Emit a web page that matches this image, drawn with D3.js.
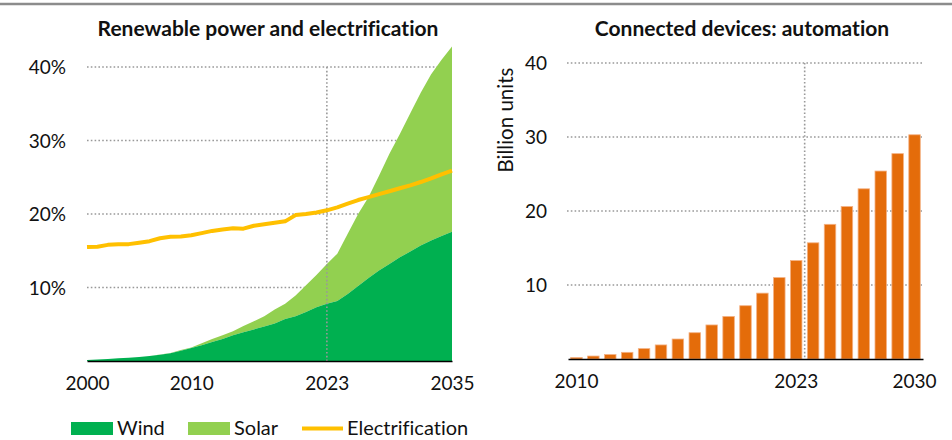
<!DOCTYPE html>
<html><head><meta charset="utf-8">
<script src="https://cdn.jsdelivr.net/npm/d3@7"></script>
<style>
body{margin:0;background:#fff;}
svg{display:block;font-family:Lato,"Open Sans",sans-serif;font-variant-ligatures:none;}
</style></head><body>
<svg id="c" width="952" height="440"></svg>
<script>
// ---------- DATA ----------
const years = d3.range(2000, 2036);
const wind = [0.15,0.2,0.28,0.36,0.45,0.55,0.68,0.85,1.05,1.4,1.78,2.15,2.6,3.0,3.5,3.9,4.3,4.7,5.1,5.7,6.1,6.65,7.3,7.8,8.15,9.1,10.2,11.3,12.3,13.2,14.1,14.9,15.7,16.4,17.0,17.6];
const solar = [0,0,0,0,0,0,0,0.02,0.05,0.1,0.07,0.25,0.4,0.5,0.55,0.85,1.1,1.4,1.9,2.1,2.8,3.65,4.4,5.4,6.45,8.2,9.8,11.0,12.9,15.0,16.8,18.8,20.8,22.6,24.0,25.2];
const electrification = [15.5,15.55,15.8,15.9,15.9,16.1,16.3,16.7,16.9,16.95,17.1,17.4,17.7,17.9,18.05,18.0,18.4,18.6,18.8,19.0,19.85,20.0,20.2,20.5,20.9,21.4,21.9,22.3,22.7,23.1,23.5,23.9,24.35,24.85,25.4,25.9];
const leftXTicks = [2000, 2010, 2023, 2035];
const leftYTicks = [10, 20, 30, 40];

const deviceYears = d3.range(2010, 2031);
const devices = [0.2,0.4,0.6,0.9,1.4,1.9,2.7,3.55,4.6,5.75,7.2,8.9,11.0,13.3,15.7,18.2,20.6,23.0,25.4,27.75,30.3];
const rightXTicks = [2010, 2023, 2030];
const rightYTicks = [10, 20, 30, 40];
const markYear = 2023;

const titles = ["Renewable power and electrification", "Connected devices: automation"];
const legendItems = [
  {name: "Wind", type: "rect", color: "#00B050"},
  {name: "Solar", type: "rect", color: "#92D050"},
  {name: "Electrification", type: "line", color: "#FFC000"}
];
const C = {wind: "#00B050", solar: "#92D050", elec: "#FFC000", bar: "#E46C0A", barEdge: "#F4B183", grid: "#999999"};

const svg = d3.select("#c");

// top rule
svg.append("line").attr("x1",0).attr("x2",952).attr("y1",4).attr("y2",4)
  .attr("stroke","#8c8c8c").attr("stroke-width",2.5);

// ---------- LEFT CHART ----------
const xL = d3.scaleLinear().domain([2000, 2035]).range([87, 452]);
const yL = d3.scaleLinear().domain([0, 40]).range([361, 67]);
const gL = svg.append("g");

gL.append("text").attr("x",268).attr("y",36).attr("text-anchor","middle")
  .attr("font-weight","bold").attr("font-size",21).attr("fill","#111").text(titles[0]);

// grid
gL.selectAll(".gh").data(leftYTicks).join("line")
  .attr("x1",xL(2000)).attr("x2",xL(2035)).attr("y1",d=>yL(d)).attr("y2",d=>yL(d))
  .attr("stroke",C.grid).attr("stroke-width",1.6).attr("stroke-dasharray","1.6,2.2");

const rows = years.map((yr,i)=>({yr, w: wind[i], s: solar[i], e: electrification[i]}));
const areaW = d3.area().x(d=>xL(d.yr)).y0(yL(0)).y1(d=>yL(d.w));
const areaS = d3.area().x(d=>xL(d.yr)).y0(d=>yL(d.w)).y1(d=>yL(d.w + d.s));
gL.append("path").datum(rows).attr("d",areaS).attr("fill",C.solar);
gL.append("path").datum(rows).attr("d",areaW).attr("fill",C.wind);

// vertical marker
gL.append("line").attr("x1",xL(markYear)).attr("x2",xL(markYear)).attr("y1",yL(40)).attr("y2",yL(0))
  .attr("stroke",C.grid).attr("stroke-width",1.6).attr("stroke-dasharray","1.6,2.2");

// electrification line
gL.append("path").datum(rows)
  .attr("d", d3.line().x(d=>xL(d.yr)).y(d=>yL(d.e)))
  .attr("fill","none").attr("stroke",C.elec).attr("stroke-width",4).attr("stroke-linejoin","round");

// axes
const axLx = d3.axisBottom(xL).tickValues(leftXTicks).tickFormat(d3.format("d")).tickSize(0).tickPadding(0);
const gax = gL.append("g").attr("transform",`translate(0,${yL(0)})`).call(axLx);
gax.select(".domain").attr("stroke","#000").attr("stroke-width",1.5);
gax.selectAll("text").attr("y",29).attr("dy",0).attr("font-size",19).attr("font-family","Lato").attr("fill","#111");

const axLy = d3.axisLeft(yL).tickValues(leftYTicks).tickFormat(d=>d+"%").tickSize(0).tickPadding(0);
const gay = gL.append("g").attr("transform","translate(66,0)").call(axLy);
gay.select(".domain").remove();
gay.selectAll("text").attr("font-size",19).attr("font-family","Lato").attr("fill","#111").attr("dy","0.35em");

// legend
const lg = svg.append("g");
const lx = [71, 188, 302];
legendItems.forEach((it,i)=>{
  if(it.type==="rect"){
    lg.append("rect").attr("x",lx[i]).attr("y",422).attr("width",42).attr("height",13).attr("fill",it.color);
    lg.append("text").attr("x",lx[i]+46).attr("y",435).attr("font-size",20).attr("fill","#111").text(it.name);
  } else {
    lg.append("line").attr("x1",lx[i]).attr("x2",lx[i]+41).attr("y1",428.5).attr("y2",428.5)
      .attr("stroke",it.color).attr("stroke-width",4);
    lg.append("text").attr("x",lx[i]+45).attr("y",435).attr("font-size",20).attr("fill","#111").text(it.name);
  }
});

// ---------- RIGHT CHART ----------
const xR = d3.scaleBand().domain(deviceYears).range([568, 923]).paddingInner(0.32).paddingOuter(0.16);
const yR = d3.scaleLinear().domain([0, 40]).range([359, 63]);
const gR = svg.append("g");

gR.append("text").attr("x",742).attr("y",36).attr("text-anchor","middle")
  .attr("font-weight","bold").attr("font-size",21).attr("fill","#111").text(titles[1]);

gR.selectAll(".gh").data(rightYTicks).join("line")
  .attr("x1",567).attr("x2",922).attr("y1",d=>yR(d)).attr("y2",d=>yR(d))
  .attr("stroke",C.grid).attr("stroke-width",1.6).attr("stroke-dasharray","1.6,2.2");

const markX = xR(markYear) + xR.bandwidth() + xR.step()*xR.paddingInner()/2;
gR.append("line").attr("x1",markX).attr("x2",markX).attr("y1",yR(40)).attr("y2",yR(0))
  .attr("stroke",C.grid).attr("stroke-width",1.6).attr("stroke-dasharray","1.6,2.2");

gR.selectAll(".bar").data(deviceYears.map((y,i)=>({y, v: devices[i]}))).join("rect")
  .attr("x",d=>xR(d.y)).attr("width",xR.bandwidth())
  .attr("y",d=>yR(d.v)).attr("height",d=>yR(0)-yR(d.v))
  .attr("fill",C.bar).attr("stroke",C.barEdge).attr("stroke-width",0.8);

const axRx = d3.axisBottom(xR).tickValues(rightXTicks).tickSize(0).tickPadding(0);
const grx = gR.append("g").attr("transform",`translate(0,${yR(0)})`).call(axRx);
grx.select(".domain").attr("stroke","#000").attr("stroke-width",1.5);
grx.selectAll("text").attr("y",29).attr("dy",0).attr("font-size",19).attr("font-family","Lato").attr("fill","#111");

const axRy = d3.axisLeft(yR).tickValues(rightYTicks).tickSize(0).tickPadding(0);
const gry = gR.append("g").attr("transform","translate(547,0)").call(axRy);
gry.select(".domain").remove();
gry.selectAll("text").attr("font-size",19).attr("font-family","Lato").attr("fill","#111").attr("dy","0.35em");

gR.append("text").attr("transform","translate(513,120) rotate(-90)").attr("text-anchor","middle")
  .attr("font-size",20.5).attr("fill","#111").text("Billion units");
</script>
</body></html>
